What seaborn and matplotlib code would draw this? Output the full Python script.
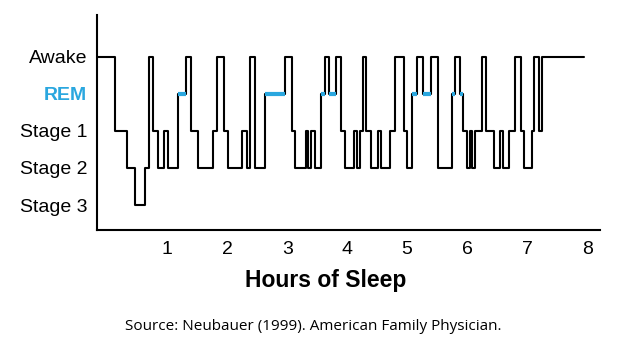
import pandas as pd
import seaborn as sns
import matplotlib.pyplot as plt

# sleep stages, top to bottom
stage_names = ['Awake', 'REM', 'Stage 1', 'Stage 2', 'Stage 3']

# hypnogram: time (hours) at which each stage begins
start_hours = [-0.17, 0.137, 0.33, 0.458, 0.625, 0.697, 0.764, 0.847, 0.94, 1.01,
               1.18, 1.305, 1.39, 1.52, 1.76, 1.825, 1.95, 2.02, 2.25, 2.325,
               2.38, 2.47, 2.625, 2.96, 3.075, 3.13, 3.31, 3.35, 3.40, 3.46,
               3.56, 3.63, 3.69, 3.81, 3.89, 3.97, 4.12, 4.16, 4.22, 4.26,
               4.32, 4.39, 4.51, 4.56, 4.72, 4.80, 4.94, 4.99, 5.08, 5.16,
               5.26, 5.39, 5.51, 5.74, 5.80, 5.88, 5.93, 5.99, 6.05, 6.08,
               6.13, 6.24, 6.32, 6.44, 6.55, 6.60, 6.70, 6.79, 6.89, 6.94,
               7.08, 7.12, 7.19, 7.25, 7.94]
stages = ['Awake', 'Stage 1', 'Stage 2', 'Stage 3', 'Stage 2', 'Awake', 'Stage 1', 'Stage 2', 'Stage 1', 'Stage 2',
          'REM', 'Awake', 'Stage 1', 'Stage 2', 'Stage 1', 'Awake', 'Stage 1', 'Stage 2', 'Stage 1', 'Stage 2',
          'Awake', 'Stage 2', 'REM', 'Awake', 'Stage 1', 'Stage 2', 'Stage 1', 'Stage 2', 'Stage 1', 'Stage 2',
          'REM', 'Awake', 'REM', 'Awake', 'Stage 1', 'Stage 2', 'Stage 1', 'Stage 2', 'Stage 1', 'Awake',
          'Stage 1', 'Stage 2', 'Stage 1', 'Stage 2', 'Stage 1', 'Awake', 'Stage 1', 'Stage 2', 'REM', 'Awake',
          'REM', 'Awake', 'Stage 2', 'REM', 'Awake', 'REM', 'Stage 1', 'Stage 2', 'Stage 1', 'Stage 2',
          'Stage 1', 'Awake', 'Stage 1', 'Stage 2', 'Stage 1', 'Stage 2', 'Stage 1', 'Awake', 'Stage 1', 'Stage 2',
          'Stage 1', 'Awake', 'Stage 1', 'Awake', 'Awake']
x_ticks = [1, 2, 3, 4, 5, 6, 7, 8]

BLUE = '#2aa7df'
level = {name: len(stage_names) - 1 - i for i, name in enumerate(stage_names)}

df = pd.DataFrame({'hours': start_hours, 'stage': stages})
df['level'] = df['stage'].map(level)

sns.set_style('white')
plt.rcParams['font.family'] = ['Liberation Sans', 'DejaVu Sans']
plt.rcParams['text.color'] = 'black'
plt.rcParams['xtick.color'] = 'black'
plt.rcParams['ytick.color'] = 'black'
plt.rcParams['axes.labelcolor'] = 'black'

fig = plt.figure(figsize=(6.26, 3.56), dpi=100)
ax = fig.add_axes([0.155, 0.354, 0.803, 0.604])

sns.lineplot(data=df, x='hours', y='level', drawstyle='steps-post',
             estimator=None, sort=False, color='black', linewidth=1.5, ax=ax)

# REM periods drawn in blue
rem = df.index[df['stage'] == 'REM']
ax.hlines([level['REM']] * len(rem), df.loc[rem, 'hours'], df.loc[rem + 1, 'hours'],
          color=BLUE, linewidth=3, zorder=3)

ax.set_xlim(-0.17, 8.21)
ax.set_ylim(-0.67, 5.12)
ax.set_xticks(x_ticks)
ax.set_xticklabels([str(t) for t in x_ticks])
ax.set_yticks([level[s] for s in stage_names])
ax.set_yticklabels(stage_names)
ax.tick_params(axis='both', length=0, labelsize=14, labelcolor='black')
ax.tick_params(axis='x', pad=8)
ax.tick_params(axis='y', pad=7)
for lab in ax.get_yticklabels():
    if lab.get_text() == 'REM':
        lab.set_color(BLUE)
        lab.set_fontweight('bold')

ax.set_ylabel('')
ax.set_xlabel('Hours of Sleep', fontsize=16.5, fontweight='bold', color='black')
ax.xaxis.set_label_coords((326 - 97) / 503, -0.18)

sns.despine(ax=ax)
for side in ['left', 'bottom']:
    ax.spines[side].set_color('black')
    ax.spines[side].set_linewidth(1.5)

fig.text(0.5, 0.082, 'Source: Neubauer (1999). American Family Physician.',
         ha='center', va='center', fontsize=11, color='black',
         family=['Open Sans', 'DejaVu Sans'])

fig.savefig('out.png', dpi=100)
